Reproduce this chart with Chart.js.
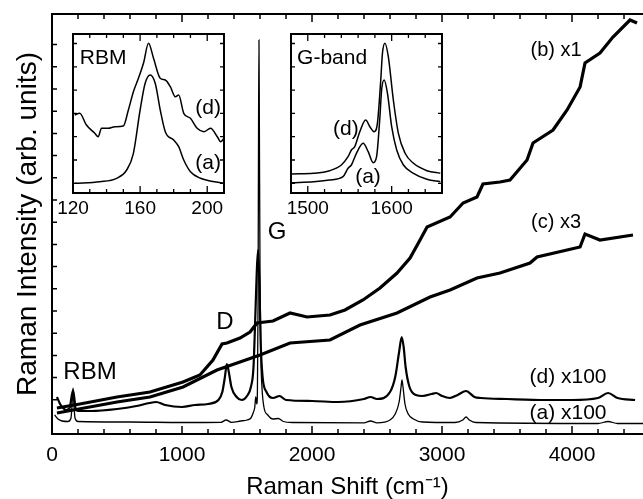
<!DOCTYPE html>
<html><head><meta charset="utf-8">
<script src="https://cdn.jsdelivr.net/npm/chart.js@4/dist/chart.umd.min.js"></script>
<style>
html,body{margin:0;padding:0;background:#fff;}
#wrap{position:relative;width:643px;height:499px;overflow:hidden;background:#fff;}
canvas{position:absolute;}
</style></head><body>
<div id="wrap">
<canvas id="main" width="643" height="499" style="left:0;top:0;width:643px;height:499px"></canvas>
<canvas id="rbm" width="191" height="200" style="left:53px;top:30px;width:191px;height:200px"></canvas>
<canvas id="gband" width="191" height="200" style="left:271px;top:30px;width:191px;height:200px"></canvas>
</div>
<script>
// ---------------- MAIN SPECTRA (x: Raman shift, cm-1 ; y: intensity, arb. units) ----------------
// (a) x100
const aX = [20,46,77,123,146,154,162,169,177,200,600,1000,1300,1340,1380,1450,1500,1530,1550,1560,1567,1575,1580,1585,1589,1592,1595,1600,1606,1615,1630,1660,1700,1740,1780,1850,2400,2450,2500,2600,2640,2670,2685,2692,2700,2715,2740,2780,2850,3100,3160,3185,3210,3260,4200,4277,4350,4546];
const aY = [7,3,1,0.5,4,17,34,17,4,0.5,0,-0.5,-0.3,2,-0.3,1,2,4,10,15,25,18,30,120,300,382,300,150,70,35,15,7,3,3.5,0.5,-0.5,-0.8,1,-0.8,2,8,20,35,42,35,18,8,3,0,-0.5,2,5,2,-0.5,-1.5,0.5,-1.5,-1.5];
// (d) x100
const dX = [38,62,85,108,135,162,185,220,300,500,650,750,800,870,1000,1100,1200,1280,1310,1330,1345,1360,1380,1420,1460,1500,1530,1550,1565,1575,1585,1595,1605,1620,1650,1700,1750,1800,2000,2200,2400,2450,2500,2600,2640,2670,2690,2705,2720,2750,2800,2850,2920,2954,3000,3060,3120,3185,3250,3300,3500,3800,4000,4200,4277,4350,4485];
const dY = [25,18,14,12,14,32,12,11,11,13,16,19,20,17,15,17,18,22,30,45,58,50,35,25,22,26,35,55,110,150,172,140,80,45,30,24,26,22,21,20,23,25,23,30,45,70,85,75,55,35,27,26,28,29,26,24,27,31,25,24,23,22,22,24,29,24,22];
// (b) x1
const bX = [38,215,500,754,1008,1138,1238,1308,1346,1446,1523,1577,1638,1700,1831,1962,2138,2254,2392,2523,2654,2754,2831,2885,3062,3162,3269,3315,3446,3523,3654,3700,3854,3962,4062,4100,4215,4315,4446,4500];
const bY = [14,18,25,30,40,47,62,78,79,84,90,99,100,101,109,105,107,112,122,134,149,164,182,195,205,219,225,238,240,242,262,279,292,312,335,359,369,385,402,399];
// (c) x3
const cX = [38,500,754,1008,1269,1446,1600,1831,2138,2369,2654,2908,3062,3269,3446,3677,3731,3962,4062,4100,4215,4469];
const cY = [9,20,25,35,52,60,67,79,82,97,109,125,132,144,149,159,165,172,175,188,182,187];

const xLabelTicks = [0,1000,2000,3000,4000];
const xMinorStep = 200;

// ---------------- INSET: RBM ----------------
const rbmAX = [121,136,146,152,156,160,163,166,169,172,175,180,183,186,190,196,210];
const rbmAY = [9.7,11.3,14.7,23,39.7,83,109.7,118,109.7,83,61.3,53,46.3,33,21.3,14.7,9.7];
const rbmDX = [121,124,128,133,135,137,141,145,150,153,156,159,162,165,168,172,175,178,181,183,186,190,194,198,202,206,208,210];
const rbmDY = [78,79.7,68,59.7,56.3,64.7,64.7,66.3,67,83,101.3,114.7,129.7,149.7,134.7,114.7,113,106.3,96.3,98,79.7,74.7,64.7,61.3,64.7,56.3,51.3,54.7];
const rbmLabelTicks = [120,160,200];

// ---------------- INSET: G-band ----------------
const gAX = [1481,1507,1526,1542,1548,1552,1558,1566,1572,1578,1582,1586,1588,1591,1595,1600,1606,1614,1626,1642,1658];
const gAY = [10.3,11.3,13,16.3,24.7,28,39.7,49.7,41.3,30.3,36.3,76.3,103,113,99.7,66.3,43,28,19.7,13.7,11.3];
const gDX = [1481,1507,1526,1540,1548,1552,1556,1562,1569,1574,1579,1583,1587,1589,1592,1596,1602,1608,1616,1626,1642,1658];
const gDY = [19,19.7,22.3,28,36.3,43,46.3,61.3,73,66.3,61.3,69.7,113,139.7,149.7,136.3,93,59.7,39.7,29.7,22.3,19.7];
const gLabelTicks = [1500,1600];

const FONT = "'Liberation Sans', Arial, Helvetica, sans-serif";
Chart.defaults.font.family = FONT;
Chart.defaults.color = '#000';
function pts(xs, ys){ return xs.map((x,i)=>({x:x, y:ys[i]})); }

// inward tick marks + frame, drawn from the chart's own scales
const frameTicks = {
  id:'frameTicks',
  afterDatasetsDraw(chart, args, o){
    const ctx = chart.ctx, a = chart.chartArea, sx = chart.scales.x, sy = chart.scales.y;
    ctx.save();
    ctx.strokeStyle = '#000';
    ctx.lineWidth = o.tickW;
    ctx.beginPath();
    sx.ticks.forEach(t=>{
      const p = sx.getPixelForValue(t.value);
      if (p < a.left + 1 || p > a.right - 1) return;
      const L = o.major.includes(t.value) ? o.majLen : o.minLen;
      ctx.moveTo(p, a.bottom); ctx.lineTo(p, a.bottom - L);
      ctx.moveTo(p, a.top); ctx.lineTo(p, a.top + L);
    });
    sy.ticks.forEach(t=>{
      const p = sy.getPixelForValue(t.value);
      ctx.moveTo(a.left, p); ctx.lineTo(a.left + o.yLen, p);
      if (o.right) { ctx.moveTo(a.right, p); ctx.lineTo(a.right - o.yLen, p); }
    });
    ctx.stroke();
    ctx.lineWidth = o.frameW;
    ctx.beginPath();
    ctx.moveTo(a.left, a.top); ctx.lineTo(a.left, a.bottom);
    ctx.moveTo(a.left - o.frameW/2, a.top); ctx.lineTo(a.right + (o.right ? o.frameW/2 : 0), a.top);
    ctx.moveTo(a.left - o.frameW/2, a.bottom); ctx.lineTo(a.right + (o.right ? o.frameW/2 : 0), a.bottom);
    if (o.right) { ctx.moveTo(a.right, a.top); ctx.lineTo(a.right, a.bottom); }
    ctx.stroke();
    ctx.restore();
  }
};
// text annotations placed in data coordinates
const textLabels = {
  id:'textLabels',
  afterDatasetsDraw(chart, args, o){
    const ctx = chart.ctx, sx = chart.scales.x, sy = chart.scales.y;
    ctx.save();
    ctx.fillStyle = '#000'; ctx.textAlign = 'center'; ctx.textBaseline = 'middle';
    (o.items || []).forEach(it=>{
      ctx.font = it.size + 'px ' + FONT;
      ctx.fillText(it.text, sx.getPixelForValue(it.x), sy.getPixelForValue(it.y));
    });
    ctx.restore();
  }
};
const areaBg = {
  id:'areaBg',
  beforeDraw(chart){
    const ctx = chart.ctx, a = chart.chartArea;
    ctx.save(); ctx.fillStyle = '#fff';
    ctx.fillRect(a.left, a.top, a.right - a.left, a.bottom - a.top);
    ctx.restore();
  }
};
function line(label, data, w, mono){
  return {label:label, data:data, borderColor:'#000', backgroundColor:'#000', borderWidth:w,
          pointRadius:0, fill:false, tension:0, cubicInterpolationMode: mono ? 'monotone' : 'default'};
}

// ---------------- MAIN CHART ----------------
const xTickValues = [];
for (let v = 0; v <= 4400; v += xMinorStep) xTickValues.push(v);

new Chart(document.getElementById('main'), {
  type:'line',
  data:{datasets:[
    line('(b) x1', pts(bX,bY), 3.2, false),
    line('(c) x3', pts(cX,cY), 3.2, false),
    line('(d) x100', pts(dX,dY), 2.2, true),
    line('(a) x100', pts(aX,aY), 1.3, true)
  ]},
  options:{
    responsive:false, animation:false,
    layout:{padding:{top:14,right:0,left:0,bottom:0}},
    plugins:{
      legend:{display:false}, tooltip:{enabled:false},
      frameTicks:{tickW:1.5, frameW:2, major:xLabelTicks, majLen:8, minLen:5, yLen:5, right:false},
      textLabels:{items:[
        {text:'RBM', x:292, y:50, size:24},
        {text:'D', x:1331, y:100, size:24},
        {text:'G', x:1731, y:190, size:24},
        {text:'(b) x1', x:3877, y:372, size:20},
        {text:'(c) x3', x:3877, y:200, size:20},
        {text:'(d) x100', x:3969, y:45, size:21},
        {text:'(a) x100', x:3969, y:9, size:21}
      ]}
    },
    scales:{
      x:{type:'linear', min:0, max:4546,
         grid:{display:false}, border:{display:false},
         afterBuildTicks:(s)=>{ s.ticks = xTickValues.map(v=>({value:v})); },
         ticks:{font:{size:21}, color:'#000', padding:1, maxRotation:0, autoSkip:false,
                callback:(v)=> xLabelTicks.includes(v) ? String(v) : ''},
         title:{display:true, text:'Raman Shift (cm⁻¹)', color:'#000', font:{size:24, lineHeight:1}, padding:{top:0,bottom:0}},
         afterFit:(s)=>{ s.height = 65; }
      },
      y:{type:'linear', min:-12, max:408,
         grid:{display:false}, border:{display:false},
         ticks:{display:false, stepSize:22.2},
         afterBuildTicks:(s)=>{ s.ticks = s.ticks.filter(t=>t.value>=0 && t.value<=400); },
         title:{display:true, text:'Raman Intensity (arb. units)', color:'#000', font:{size:28, lineHeight:1}, padding:{top:14,bottom:0}},
         afterFit:(s)=>{ s.width = 52; }
      }
    }
  },
  plugins:[areaBg, frameTicks, textLabels]
});

// ---------------- INSETS ----------------
const insetYTicks = [9.7,33,56.3,79.6,102.9,126.2,149.5];
function inset(id, xmin, xmax, step, labelTicks, dsA, dsD, labels){
  const tv = [];
  for (let v = xmin; v <= xmax + 1e-6; v += step) tv.push(v);
  return new Chart(document.getElementById(id), {
    type:'line',
    data:{datasets:[line('(d)', dsD, 1.5, true), line('(a)', dsA, 1.5, true)]},
    options:{
      responsive:false, animation:false,
      layout:{padding:{top:4,right:20,left:20,bottom:0}},
      plugins:{
        legend:{display:false}, tooltip:{enabled:false},
        frameTicks:{tickW:1.3, frameW:2, major:labelTicks, majLen:7, minLen:4, yLen:4, right:true},
        textLabels:{items:labels}
      },
      scales:{
        x:{type:'linear', min:xmin, max:xmax, grid:{display:false}, border:{display:false},
           afterBuildTicks:(s)=>{ s.ticks = tv.map(v=>({value:v})); },
           ticks:{font:{size:19}, color:'#000', padding:-4, maxRotation:0, autoSkip:false,
                  callback:(v)=> labelTicks.includes(v) ? String(v) : ''},
           afterFit:(s)=>{ s.height = 37; }
        },
        y:{type:'linear', min:0, max:159, grid:{display:false}, border:{display:false},
           ticks:{display:false},
           afterBuildTicks:(s)=>{ s.ticks = insetYTicks.map(v=>({value:v})); },
           afterFit:(s)=>{ s.width = 0; }
        }
      }
    },
    plugins:[areaBg, frameTicks, textLabels]
  });
}
inset('rbm', 120, 210, 10, rbmLabelTicks, pts(rbmAX,rbmAY), pts(rbmDX,rbmDY), [
  {text:'RBM', x:138, y:135, size:21},
  {text:'(d)', x:200.5, y:85, size:21},
  {text:'(a)', x:200.5, y:30, size:21}
]);
inset('gband', 1480, 1660, 20, gLabelTicks, pts(gAX,gAY), pts(gDX,gDY), [
  {text:'G-band', x:1529, y:135, size:21},
  {text:'(d)', x:1545.5, y:64, size:21},
  {text:'(a)', x:1571.8, y:16, size:21}
]);
</script>
</body></html>
